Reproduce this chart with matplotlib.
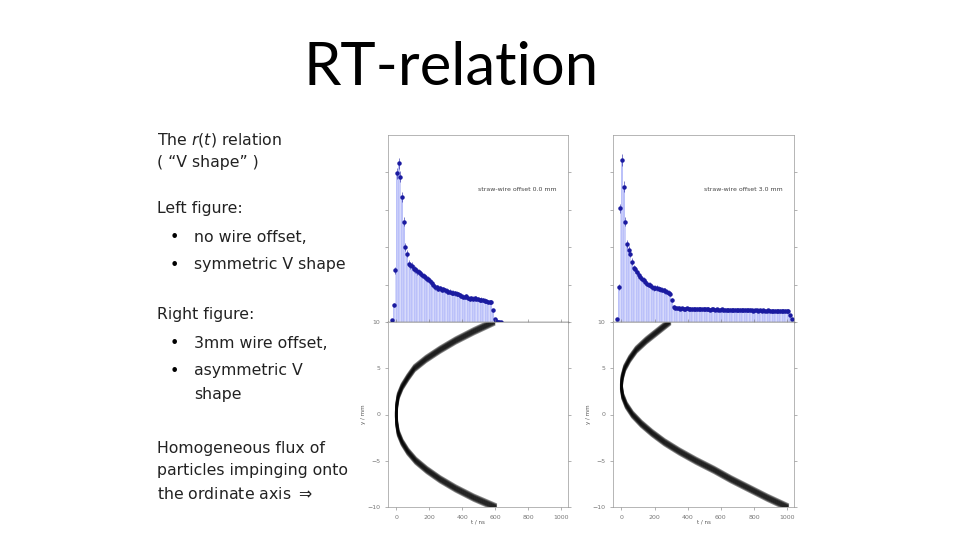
import matplotlib.pyplot as plt
import numpy as np

# histogram bins (10 ns wide), left: no wire offset
left_t = np.arange(-25, 640, 10)
left_n = [5, 50, 155, 445, 475, 435, 375, 300, 225, 205, 175, 170, 168, 160, 158, 152,
          150, 146, 140, 138, 135, 130, 128, 122, 118, 112, 105, 104, 100, 101, 97, 98,
          95, 93, 90, 91, 88, 87, 86, 85, 84, 80, 78, 76, 75, 77, 72, 70, 72, 70,
          71, 70, 68, 66, 67, 65, 64, 62, 60, 61, 60, 35, 10, 3, 1, 0, 0][:len(left_t)]

# right: 3 mm wire offset
right_t = np.arange(-25, 1030, 10)
right_n = ([8, 105, 340, 485, 405, 300, 233, 215, 205, 180, 162, 158, 150, 140, 135, 130,
            125, 120, 115, 112, 110, 105, 102, 103, 102, 100, 98, 97, 95, 93, 90, 88,
            85, 65, 45]
           + [42, 41, 42, 40, 41, 40, 39, 41, 40, 40, 39, 40, 38, 39, 40, 39, 38, 39,
              38, 38, 39, 37, 38, 38, 37, 38, 37, 37, 38, 36, 37, 37, 36, 37, 36, 36,
              37, 36, 35, 36, 36, 35, 36, 35, 35, 36, 35, 34, 35, 35, 34, 35, 34, 35,
              34, 34, 35, 34, 33, 34, 34, 33, 34, 33, 33, 34, 33, 32, 33, 20, 10, 2])[:len(right_t)]

# r(t) curve: drift time vs. position
y_mm = [-10, -9, -8, -7, -6, -5, -4, -3, -2, -1, 0, 1, 2, 3, 4, 5, 6, 7, 8, 9, 10]
left_curve = [600, 470, 360, 265, 185, 118, 70, 35, 12, 3, 0, 3, 12, 35, 70, 110, 180, 265, 360, 470, 590]
right_curve = [1000, 880, 770, 660, 560, 450, 350, 260, 185, 120, 67, 30, 8, 0, 5, 20, 50, 90, 150, 220, 290]

fig = plt.figure(figsize=(9.6, 5.4), dpi=100)
W, H = 960.0, 540.0

fig.text(451 / W, 1 - 68 / H, "RT-relation", fontsize=43, family="Lato",
         ha="center", va="center")

lines = [
    (157, 140, r"The $r(t)$ relation"),
    (157, 162, "( \u201cV shape\u201d )"),
    (157, 208, "Left figure:"),
    (194, 237, "no wire offset,"),
    (194, 265, "symmetric V shape"),
    (157, 314, "Right figure:"),
    (194, 343, "3mm wire offset,"),
    (194, 371, "asymmetric V"),
    (194, 394, "shape"),
    (157, 448, "Homogeneous flux of"),
    (157, 471, "particles impinging onto"),
    (157, 494, r"the ordinate axis $\Rightarrow$"),
]
for x, y, s in lines:
    fig.text(x / W, 1 - y / H, s, fontsize=11.3, va="center", color="#222222")
for y in [237, 265, 343, 371]:
    fig.text(174 / W, 1 - y / H, "\u2022", fontsize=11.3, va="center", ha="center")


def panel(x0, x1, t, n, yc, tc, label):
    top, mid, bot = 135, 322, 507
    axh = fig.add_axes([x0 / W, 1 - mid / H, (x1 - x0) / W, (mid - top) / H])
    axc = fig.add_axes([x0 / W, 1 - bot / H, (x1 - x0) / W, (bot - mid) / H])
    axh.bar(t, n, width=10, color="#aab2f8", edgecolor="white", linewidth=0.3)
    axh.errorbar(t, n, yerr=np.sqrt(np.array(n)) * 0.8, fmt="o", ms=2.2,
                 color="#1a1aa0", elinewidth=0.4)
    axh.set_xlim(-50, 1040)
    axh.set_ylim(0, 560)
    axh.set_xticks([])
    axh.set_yticks([0, 112, 224, 336, 448])
    axh.set_yticklabels(["10", "", "", "", ""])
    axh.tick_params(labelsize=4.5, length=2, width=0.4, right=True, colors="#777777")
    axh.text(0.72, 0.7, label, transform=axh.transAxes, fontsize=4.5, ha="center",
             color="#444444")

    for dy in np.linspace(-0.3, 0.3, 7):
        axc.plot(tc, np.array(yc) + dy, color="black", lw=2.0, alpha=0.45)
    axc.set_xlim(-50, 1040)
    axc.set_ylim(-10, 10)
    axc.set_xticks([0, 200, 400, 600, 800, 1000])
    axc.set_yticks([-10, -5, 0, 5])
    axc.tick_params(labelsize=4.5, length=2, width=0.4, right=True, top=True,
                    colors="#777777")
    axc.set_xlabel("t / ns", fontsize=4, labelpad=0, color="#555555")
    axc.set_ylabel("y / mm", fontsize=4, labelpad=1, color="#555555")
    for ax in (axh, axc):
        for s in ax.spines.values():
            s.set_linewidth(0.5)
            s.set_color("#999999")
    axh.spines["bottom"].set_color("#333333")
    axh.spines["bottom"].set_linewidth(1)


panel(388, 568, left_t, left_n, y_mm, left_curve, "straw-wire offset 0.0 mm")
panel(613, 794, right_t, right_n, y_mm, right_curve, "straw-wire offset 3.0 mm")

fig.savefig("out.png", dpi=100)
